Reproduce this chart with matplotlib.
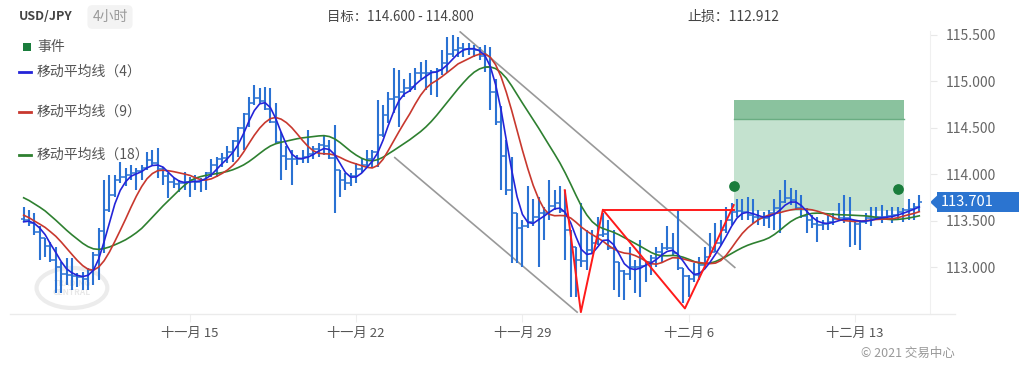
import numpy as np
import pandas as pd
import matplotlib
matplotlib.use('Agg')
import matplotlib.pyplot as plt
from matplotlib.patches import Rectangle, Polygon, Ellipse
from matplotlib.lines import Line2D
from matplotlib.transforms import blended_transform_factory

plt.rcParams['font.family'] = ['Noto Sans CJK SC', 'DejaVu Sans']

# 4h USD/JPY bars (closes before the visible window feed the moving averages)
warmup_close = [114.00, 114.02, 113.98, 113.95, 113.97, 113.92, 113.90, 113.88, 113.80,
                113.72, 113.70, 113.62, 113.55, 113.50, 113.45, 113.48, 113.52]

close = [113.51, 113.48, 113.38, 113.32, 113.23, 113.08, 113.01, 112.93, 112.92, 112.91,
         112.90, 112.88, 112.97, 113.13, 113.39, 113.62, 113.78, 113.94, 113.97, 113.99,
         114.02, 114.04, 114.07, 114.15, 114.12, 114.06, 113.98, 113.92, 113.90, 113.91,
         113.92, 113.94, 113.92, 113.94, 114.02, 114.10, 114.16, 114.18, 114.24, 114.36,
         114.50, 114.65, 114.77, 114.82, 114.79, 114.70, 114.56, 114.35, 114.20, 114.16,
         114.16, 114.17, 114.19, 114.22, 114.27, 114.32, 114.30, 114.18, 114.05, 113.94,
         113.91, 113.98, 114.06, 114.10, 114.16, 114.24, 114.42, 114.64, 114.81, 114.83,
         114.89, 114.93, 114.94, 115.09, 115.09, 115.09, 115.10, 115.12, 115.20, 115.29,
         115.34, 115.36, 115.35, 115.35, 115.34, 115.27, 115.15, 114.88, 114.56, 114.20,
         113.83, 113.59, 113.42, 113.44, 113.49, 113.54, 113.58, 113.59, 113.66, 113.69,
         113.61, 113.40, 113.22, 113.08, 113.07, 113.19, 113.26, 113.35, 113.36, 113.21,
         113.06, 112.96, 112.93, 113.01, 113.01, 113.02, 113.06, 113.10, 113.17, 113.21,
         113.21, 113.15, 112.99, 112.91, 112.88, 112.92, 113.03, 113.11, 113.17, 113.26,
         113.40, 113.51, 113.60, 113.61, 113.60, 113.56, 113.54, 113.53, 113.53, 113.59,
         113.64, 113.70, 113.75, 113.72, 113.64, 113.55, 113.51, 113.47, 113.46, 113.47,
         113.49, 113.52, 113.53, 113.53, 113.50, 113.47, 113.49, 113.53, 113.53, 113.54,
         113.54, 113.55, 113.56, 113.60, 113.62, 113.63, 113.65, 113.701]

high = [113.65, 113.62, 113.58, 113.44, 113.32, 113.27, 113.22, 113.06, 113.10, 113.10,
        112.94, 112.95, 112.99, 113.17, 113.42, 113.94, 113.99, 113.99, 114.13, 114.07,
        114.10, 114.07, 114.10, 114.24, 114.26, 114.28, 114.08, 114.02, 113.96, 113.94,
        114.03, 113.97, 113.99, 113.96, 114.03, 114.16, 114.19, 114.23, 114.30, 114.37,
        114.51, 114.66, 114.83, 114.96, 114.93, 114.94, 114.93, 114.77, 114.45, 114.30,
        114.26, 114.21, 114.26, 114.48, 114.31, 114.34, 114.42, 114.37, 114.53, 114.05,
        114.02, 114.02, 114.12, 114.16, 114.26, 114.26, 114.80, 114.75, 114.89, 115.14,
        115.12, 115.02, 115.09, 115.14, 115.21, 115.23, 115.12, 115.14, 115.34, 115.48,
        115.50, 115.48, 115.41, 115.41, 115.39, 115.37, 115.39, 115.37, 115.02, 114.73,
        114.37, 114.19, 113.59, 113.51, 113.87, 113.73, 113.76, 113.65, 113.94, 113.83,
        113.87, 113.83, 113.40, 113.22, 113.69, 113.40, 113.40, 113.54, 113.59, 113.51,
        113.40, 113.06, 112.97, 113.22, 113.08, 113.30, 113.06, 113.13, 113.22, 113.26,
        113.44, 113.37, 113.62, 112.99, 112.92, 113.05, 113.11, 113.22, 113.37, 113.48,
        113.51, 113.65, 113.69, 113.73, 113.73, 113.76, 113.73, 113.62, 113.60, 113.62,
        113.73, 113.83, 113.94, 113.85, 113.83, 113.78, 113.64, 113.56, 113.54, 113.51,
        113.56, 113.59, 113.69, 113.78, 113.76, 113.51, 113.51, 113.59, 113.65, 113.65,
        113.67, 113.62, 113.65, 113.65, 113.64, 113.73, 113.69, 113.78]

low = [113.49, 113.45, 113.35, 113.08, 113.11, 113.06, 112.73, 112.73, 112.81, 112.76,
       112.79, 112.76, 112.76, 112.81, 112.87, 113.16, 113.60, 113.76, 113.91, 113.88,
       113.94, 113.83, 113.94, 114.05, 114.10, 113.96, 113.89, 113.75, 113.85, 113.81,
       113.83, 113.76, 113.83, 113.81, 113.83, 113.97, 113.97, 114.08, 114.12, 114.13,
       114.19, 114.26, 114.51, 114.75, 114.77, 114.69, 114.55, 114.34, 113.94, 114.05,
       113.89, 114.10, 114.12, 114.12, 114.16, 114.19, 114.21, 114.16, 113.59, 113.76,
       113.83, 113.87, 113.91, 114.02, 114.08, 114.08, 114.08, 114.40, 114.55, 114.66,
       114.51, 114.83, 114.88, 114.91, 115.02, 114.91, 114.85, 114.83, 115.07, 115.09,
       115.26, 115.26, 115.26, 115.28, 115.26, 115.23, 115.10, 114.69, 114.53, 113.83,
       113.78, 113.05, 113.05, 113.00, 113.42, 113.44, 113.00, 113.30, 113.51, 113.62,
       113.59, 113.08, 112.68, 112.68, 113.00, 112.97, 113.16, 113.24, 113.33, 113.19,
       112.76, 112.68, 112.65, 112.87, 112.73, 112.68, 112.84, 112.92, 113.00, 113.06,
       113.19, 113.13, 112.97, 112.62, 112.68, 112.84, 112.87, 113.00, 113.11, 113.17,
       113.24, 113.37, 113.46, 113.54, 113.51, 113.51, 113.48, 113.46, 113.45, 113.42,
       113.40, 113.37, 113.69, 113.67, 113.62, 113.53, 113.37, 113.42, 113.27, 113.40,
       113.40, 113.46, 113.51, 113.48, 113.22, 113.24, 113.19, 113.47, 113.44, 113.51,
       113.48, 113.51, 113.48, 113.51, 113.49, 113.51, 113.51, 113.60]

week_ticks = [31, 62, 93, 124, 155]
week_labels = ['十一月 15', '十一月 22', '十一月 29', '十二月 6', '十二月 13']
price_ticks = [113.0, 113.5, 114.0, 114.5, 115.0, 115.5]

target_low, target_high = 114.600, 114.800
entry_level = 113.61
stop_loss = 112.912
last_price = 113.701

# chart pattern drawn by the analyst
w_x = [100.9, 103.9, 108.0, 123.3, 132.4]
w_y = [113.83, 112.52, 113.62, 112.56, 113.67]
neck_x = [108.0, 132.4]
neck_y = [113.62, 113.62]
chan_up_x, chan_up_y = [81.4, 132.6], [115.53, 113.00]
chan_lo_x, chan_lo_y = [69.2, 103.2], [114.18, 112.52]
box_x = [132.4, 164.1]
event_x = [132.4, 163.0]
event_y = [113.87, 113.84]

bar_blue = '#2a72d3'
c_ma4, c_ma9, c_ma18 = '#2424d8', '#c8382e', '#2e8030'

fig = plt.figure(figsize=(10.2, 3.7), dpi=100)
ax = fig.add_axes([10/1020, 1-314/370, 920/1020, 283/370])

x = np.arange(len(close))
opens = [warmup_close[-1]] + close[:-1]

s = pd.Series(warmup_close + close)
n0 = len(warmup_close)
ma4 = s.rolling(4).mean().iloc[n0:].values
ma9 = s.rolling(9).mean().iloc[n0:].values
ma18 = s.rolling(18).mean().iloc[n0:].values

# target zone
ax.add_patch(Rectangle((box_x[0], entry_level), box_x[1]-box_x[0], target_low-entry_level,
                       fc='#c4e2cf', ec='none', zorder=0))
ax.add_patch(Rectangle((box_x[0], target_low), box_x[1]-box_x[0], target_high-target_low,
                       fc='#8ac29e', ec='none', zorder=0))
ax.plot(box_x, [target_low, target_low], color='#6aad82', lw=1, zorder=0.5)

# watermark
ax.add_patch(Ellipse((9.0, 112.78), 13.2, 0.43, fc='none', ec='#ececec', lw=3, zorder=0))
ax.text(9.0, 112.78, 'TRADING\nCENTRAL', ha='center', va='center', fontsize=6,
        color='#e8e8e8', fontweight='bold', zorder=0, linespacing=0.9)

# channel
ax.plot(chan_up_x, chan_up_y, color='#999999', lw=1.2, zorder=1)
ax.plot(chan_lo_x, chan_lo_y, color='#999999', lw=1.2, zorder=1)

# OHLC bars
ax.vlines(x, low, high, color=bar_blue, lw=1.5, zorder=2)
ax.hlines(opens, x-0.5, x, color=bar_blue, lw=1.1, zorder=2)
ax.hlines(close, x, x+0.5, color=bar_blue, lw=1.1, zorder=2)

ax.plot(x, ma18, color=c_ma18, lw=1.2, zorder=3)
ax.plot(x, ma9, color=c_ma9, lw=1.2, zorder=3)
ax.plot(x, ma4, color=c_ma4, lw=1.2, zorder=3)

ax.plot(w_x, w_y, color='#ff1a1a', lw=1.4, zorder=4)
ax.plot(neck_x, neck_y, color='#ff1a1a', lw=1.4, zorder=4)
ax.scatter(event_x, event_y, s=45, color='#1a7d3c', zorder=5)

ax.set_xlim(-2.55, 169.0)
ax.set_ylim(112.50, 115.54)
ax.yaxis.tick_right()
ax.set_yticks(price_ticks)
ax.set_yticklabels([f'{v:.3f}' for v in price_ticks])
ax.set_xticks(week_ticks)
ax.set_xticklabels(week_labels)
ax.tick_params(axis='y', length=5, color='#e8e8e8', labelcolor='#666666', labelsize=10, pad=6)
ax.tick_params(axis='x', length=6, color='#eeeeee', labelcolor='#555555', labelsize=9.5, pad=3)
for side in ['top', 'left', 'bottom']:
    ax.spines[side].set_visible(False)
ax.spines['right'].set_color('#f0f0f0')
fig.add_artist(Line2D([10/1020, 955/1020], [1-314/370, 1-314/370], color='#ebebeb', lw=1))

# last price tag
tr = blended_transform_factory(ax.transAxes, ax.transData)
ax.add_patch(Rectangle((1+7/920, last_price-0.108), 100/920, 0.216, transform=tr,
                       fc='#2b74d0', ec='none', clip_on=False))
ax.add_patch(Polygon([(1.0, last_price), (1+8/920, last_price+0.08), (1+8/920, last_price-0.08)],
                     closed=True, transform=tr, fc='#2b74d0', ec='none', clip_on=False))
ax.text(1+11/920, last_price, f'{last_price:.3f}', transform=tr, color='white', fontsize=10.5,
        va='center', ha='left', clip_on=False)

# header
def fx(px):
    return px/1020

def fy(py):
    return 1-py/370

fig.text(fx(19), fy(17), 'USD/JPY', fontsize=9, color='#444444', fontweight='bold', va='center')
fig.text(fx(110), fy(17), '4小时', fontsize=10, color='#9a9a9a', va='center', ha='center',
         bbox=dict(boxstyle='round,pad=0.35', fc='#f3f3f3', ec='none'))
fig.text(fx(327), fy(17), f'目标：{target_low:.3f} - {target_high:.3f}', fontsize=9.6,
         color='#444444', va='center')
fig.text(fx(687), fy(17), f'止损：{stop_loss:.3f}', fontsize=10, color='#444444', va='center')

# legend
fig.add_artist(Rectangle((fx(23), fy(51)), 8/1020, 8/370, fc='#1a7d3c', ec='none'))
fig.text(fx(37), fy(47), '事件', fontsize=10, color='#555555', va='center')
legend_rows = [(72, c_ma4, '移动平均线（4）'), (112, c_ma9, '移动平均线（9）'),
               (155, c_ma18, '移动平均线（18）')]
for py, col, lab in legend_rows:
    fig.add_artist(Line2D([fx(19), fx(31)], [fy(py), fy(py)], color=col, lw=2))
    fig.text(fx(37), fy(py), lab, fontsize=10, color='#555555', va='center')

fig.text(fx(955), fy(353), '© 2021 交易中心', fontsize=9, color='#999999', va='center', ha='right')

fig.savefig('out.png', dpi=100)
